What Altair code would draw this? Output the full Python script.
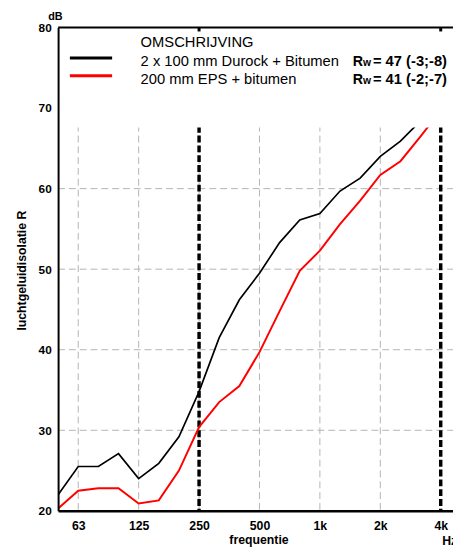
import altair as alt
import pandas as pd

# 1/3-octave band centre frequencies (index 0..20)
bands = ["50", "63", "80", "100", "125", "160", "200", "250", "315", "400", "500",
         "630", "800", "1000", "1250", "1600", "2000", "2500", "3150", "4000", "5000"]

# Series values in dB (those under the legend box are hidden)
durock_db = [22.0, 25.5, 25.5, 27.1, 24.0, 25.9, 29.2, 34.8, 41.5, 46.2, 49.5,
             53.3, 56.1, 56.9, 59.7, 61.3, 64.0, 65.9, 68.4]
eps_db = [20.3, 22.5, 22.8, 22.8, 20.9, 21.3, 25.0, 30.4, 33.5, 35.5, 39.7,
          44.8, 49.8, 52.3, 55.6, 58.5, 61.7, 63.4, 66.5, 69.7]

series_names = ["2 x 100 mm Durock + Bitumen", "200 mm EPS + bitumen"]
rw_texts = ["= 47 (-3;-8)", "= 41 (-2;-7)"]

tick_bands = ["63", "125", "250", "500", "1000", "2000", "4000"]
tick_labels = ["63", "125", "250", "500", "1k", "2k", "4k"]
marker_bands = ["250", "4000"]
y_ticks = [20, 30, 40, 50, 60, 70, 80]
y_grid = [30, 40, 50, 60, 70]

W, H = 402, 492
XMAX = 19.61
LEGEND_BOTTOM = 67.6

rows = []
for name, vals in zip(series_names, [durock_db, eps_db]):
    for i, v in enumerate(vals):
        rows.append({"x": i, "band": bands[i], "y": v, "serie": name})
df = pd.DataFrame(rows)

tick_idx = [bands.index(b) for b in tick_bands]
grid_df = pd.DataFrame({"x": tick_idx[:-1]})
marker_df = pd.DataFrame({"x": [bands.index(b) for b in marker_bands]})
hgrid_df = pd.DataFrame({"y": y_grid})
one = pd.DataFrame({"a": [0]})

xs = alt.Scale(domain=[0, XMAX], nice=False, zero=False)
ys = alt.Scale(domain=[20, 80], nice=False, zero=False)

label_expr = ("[" + ",".join("'%s'" % t for t in tick_labels) + "][indexof(["
              + ",".join(str(i) for i in tick_idx) + "], datum.value)]")

FONT = "Liberation Sans"
GRID = "#b4b4b4"

y_axis = alt.Axis(
    values=y_ticks, grid=False, ticks=False, labelPadding=7, labelFlush=False,
    labelFont=FONT, labelFontSize=12, labelFontWeight="bold", labelColor="black",
    domainColor="black", domainWidth=2, zindex=1,
    title="luchtgeluidisolatie R", titleFont=FONT, titleFontSize=12.5,
    titleFontWeight="bold", titleColor="black", titleAngle=270,
    titleX=-33, titleY=247, titleBaseline="alphabetic", titleAlign="center")

x_axis = alt.Axis(
    values=tick_idx, labelExpr=label_expr, grid=False, ticks=False, labelPadding=9,
    labelFlush=False, labelFont=FONT, labelFontSize=12.5, labelFontWeight="bold",
    labelColor="black", domainColor="black", domainWidth=2.5, zindex=1,
    title="frequentie", titleFont=FONT, titleFontSize=12.5, titleFontWeight="bold",
    titleColor="black", titleX=204, titleY=33, titleBaseline="alphabetic")


def X(f="x:Q"):
    return alt.X(f, scale=xs, axis=x_axis)


def Y(f="y:Q"):
    return alt.Y(f, scale=ys, axis=y_axis)


hgrid = alt.Chart(hgrid_df).mark_rule(color=GRID, strokeWidth=1, strokeDash=[7, 4]).encode(
    y=Y(), x=alt.value(0), x2=alt.value(W))

vgrid = alt.Chart(grid_df).mark_rule(color=GRID, strokeWidth=1, strokeDash=[7, 4]).encode(
    x=X(), y=alt.value(0), y2=alt.value(H))

markers = alt.Chart(marker_df).mark_rule(color="black", strokeWidth=3.5, strokeDash=[7, 3]).encode(
    x=X(), y=alt.value(0), y2=alt.value(H))

black_line = alt.Chart(df).transform_filter(alt.datum.serie == series_names[0]).mark_line(
    color="black", strokeWidth=1.7, clip=True).encode(x=X(), y=Y())

red_line = alt.Chart(df).transform_filter(alt.datum.serie == series_names[1]).mark_line(
    color="#ff0000", strokeWidth=2, clip=True).encode(x=X(), y=Y())

legend_box = alt.Chart(one).mark_rect(color="white").encode(
    x=alt.value(0), x2=alt.value(W),
    y=alt.value(0), y2=alt.value(H * (80 - LEGEND_BOTTOM) / 60))

top_border = alt.Chart(one).mark_rule(color="black", strokeWidth=2).encode(
    x=alt.value(0), x2=alt.value(W), y=alt.value(0))

top_ticks = alt.Chart(marker_df).mark_rule(color="black", strokeWidth=3).encode(
    x=X(), y=alt.value(0), y2=alt.value(4))

leg_black = alt.Chart(one).mark_rule(color="black", strokeWidth=3).encode(
    x=alt.value(12), x2=alt.value(55), y=alt.value(31))
leg_red = alt.Chart(one).mark_rule(color="#ff0000", strokeWidth=3).encode(
    x=alt.value(12), x2=alt.value(55), y=alt.value(49))


def txt(s, x, y, size=15, weight="normal", align="left"):
    return alt.Chart(one).mark_text(
        text=s, font=FONT, fontSize=size, fontWeight=weight, color="black",
        align=align, baseline="alphabetic").encode(x=alt.value(x), y=alt.value(y))


texts = [
    txt("OMSCHRIJVING", 84, 20),
    txt(series_names[0], 84, 39),
    txt(series_names[1], 84, 57),
    txt("R", 300, 39, 14.5, "bold"),
    txt("w", 310.5, 39, 10.5, "bold"),
    txt(rw_texts[0], 320.5, 39, 15, "bold"),
    txt("R", 300, 57, 14.5, "bold"),
    txt("w", 310.5, 57, 10.5, "bold"),
    txt(rw_texts[1], 320.5, 57, 15, "bold"),
    txt("dB", -10, -8, 11, "bold"),
    txt("Hz", 391, 527, 12.5, "bold"),
]

chart = alt.layer(
    hgrid, vgrid, markers, black_line, red_line, legend_box, top_border, top_ticks,
    leg_black, leg_red, *texts
).properties(
    width=W, height=H,
    autosize=alt.AutoSizeParams(type="none"),
    padding={"left": 51, "top": 15, "right": 0, "bottom": 35},
).configure_view(stroke=None).configure(background="white")

chart.save("out.html", embed_options={"renderer": "svg", "actions": False})
